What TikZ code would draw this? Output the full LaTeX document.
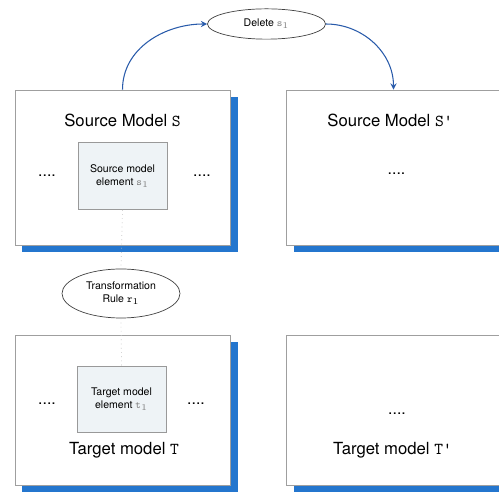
\documentclass[tikz,border=0pt]{standalone}
\usepackage{fontspec}
\setmainfont{TeX Gyre Heros}
\usepackage{tikz}
\usetikzlibrary{shapes, arrows, shadows}

\definecolor{modelblue}{RGB}{36,118,206}
\definecolor{arrowblue}{RGB}{40,90,170}
\definecolor{elemfill}{RGB}{238,243,246}

\begin{document}
\begin{tikzpicture}[model/.style = {draw=gray!75, fill=white, minimum width=4.3cm, minimum height=3.1cm,
                        drop shadow={shadow xshift=0.15cm, shadow yshift=-0.15cm, fill=modelblue, opacity=1}},
                    elem/.style = {draw=gray!80, fill=elemfill, minimum width=1.78cm, minimum height=1.34cm,
                        align=center, font=\fontsize{6}{7.5}\selectfont},
                    rule/.style = {draw=black!75, ellipse, minimum width=2.36cm, align=center,
                        font=\fontsize{6}{7.5}\selectfont},
                    title/.style = {font=\fontsize{9.5}{11}\selectfont},
                    dots/.style = {font=\small}]
                \useasboundingbox (0,0) rectangle (9.98,9.9);

                \node[model] at (2.45, 6.55) (src) {};
                \node[model] at (7.87, 6.55) (srcp) {};
                \node[model, minimum height=3.0cm] at (2.45, 1.7) (tgt) {};
                \node[model, minimum height=3.0cm] at (7.87, 1.7) (tgtp) {};

                \node[title] at (2.45, 7.5) (srctitle) {Source Model \texttt{S}};
                \node[title] at (7.8, 7.5) (srcptitle) {Source Model \texttt{S'}};
                \node[title] at (2.48, 0.9) (tgttitle) {Target model \texttt{T}};
                \node[title] at (7.85, 0.9) (tgtptitle) {Target model \texttt{T'}};

                \node[elem] at (2.45, 6.38) (srcelem) {Source model\\element \textcolor{gray}{\texttt{s}$_1$}};
                \node[elem, minimum height=1.32cm] at (2.43, 1.92) (tgtelem) {Target model\\element \textcolor{gray}{\texttt{t}$_1$}};

                \node[dots] at (0.94, 6.38) (srcdotsl) {....};
                \node[dots] at (4.04, 6.38) (srcdotsr) {....};
                \node[dots] at (7.93, 6.42) (srcpdots) {....};
                \node[dots] at (0.94, 1.82) (tgtdotsl) {....};
                \node[dots] at (3.92, 1.82) (tgtdotsr) {....};
                \node[dots] at (7.94, 1.62) (tgtpdots) {....};

                \node[rule, minimum height=0.56cm] at (5.33, 9.42) (del) {Delete \textcolor{gray}{\texttt{s}$_1$}};
                \node[rule, minimum height=0.74cm] at (2.42, 4.03) (trule) {Transformation\\Rule \texttt{r}$_1$};

                \draw [-stealth, arrowblue, semithick] (src.north) to[out=90, in=180] (del.west);
                \draw [-stealth, arrowblue, semithick] (del.east) to[out=0, in=90] (srcp.north);

                \draw [gray!50, dotted] (srcelem.south) -- (trule.north);
                \draw [gray!50, dotted] (trule.south) -- (tgtelem.north);
            \end{tikzpicture}
\end{document}
